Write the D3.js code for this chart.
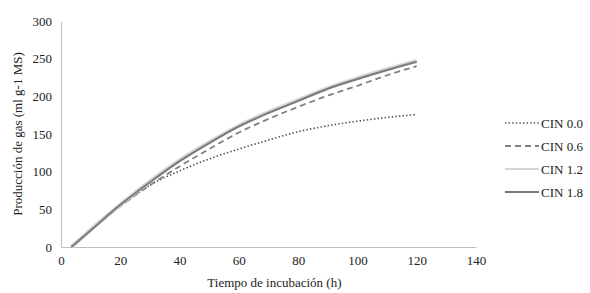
<!DOCTYPE html>
<html>
<head>
<meta charset="utf-8">
<script src="https://cdn.jsdelivr.net/npm/d3@7"></script>
<style>
  body { margin: 0; background: #fff; }
  svg text { font-family: "Liberation Serif", "Times New Roman", "DejaVu Serif", serif; fill: #222; }
</style>
</head>
<body>
<div id="chart"></div>
<script>
// incubation hours
const hours = [3.5, 10, 20, 30, 40, 50, 60, 70, 80, 90, 100, 110, 120];
// gas production (ml g-1 MS)
const cin00 = [0, 22, 54, 82, 101, 117, 130, 142, 153, 161, 167, 172, 176];
const cin06 = [0, 22, 54, 82, 107, 130, 152, 170, 186, 201, 214, 228, 240];
const cin12 = [0, 23, 56, 87, 115, 139, 161, 179, 195, 211, 224, 236, 247];
const cin18 = [0, 22, 56, 86, 114, 138, 160, 178, 194, 210, 223, 235, 246];
const xTicks = [0, 20, 40, 60, 80, 100, 120, 140];
const yTicks = [0, 50, 100, 150, 200, 250, 300];

const series = [
  { name: "CIN 0.0", values: cin00, stroke: "#4d4d4d", width: 1.6, dash: "1.4,2.2" },
  { name: "CIN 0.6", values: cin06, stroke: "#808080", width: 1.8, dash: "6,4" },
  { name: "CIN 1.2", values: cin12, stroke: "#d6d6d6", width: 4, dash: null },
  { name: "CIN 1.8", values: cin18, stroke: "#7a7a7a", width: 2, dash: null }
];

const width = 590, height = 293;
const margin = { top: 21, right: 114, bottom: 46, left: 61 };
const innerWidth = width - margin.left - margin.right;
const innerHeight = height - margin.top - margin.bottom;
const fontFamily = '"Liberation Serif", "Times New Roman", "DejaVu Serif", serif';

const svg = d3.select("#chart").append("svg")
  .attr("width", width)
  .attr("height", height)
  .attr("font-family", fontFamily);

const g = svg.append("g").attr("transform", `translate(${margin.left},${margin.top})`);

const x = d3.scaleLinear().domain([0, 140]).range([0, innerWidth]);
const y = d3.scaleLinear().domain([0, 300]).range([innerHeight, 0]);

// axes - plain grey lines, no tick marks
const xAxis = g.append("g")
  .attr("transform", `translate(0,${innerHeight})`)
  .call(d3.axisBottom(x).tickValues(xTicks).tickSize(0).tickPadding(9));
const yAxis = g.append("g")
  .call(d3.axisLeft(y).tickValues(yTicks).tickSize(0).tickPadding(9));

[xAxis, yAxis].forEach(a => {
  a.attr("font-family", fontFamily).attr("font-size", 13);
  a.select(".domain").attr("stroke", "#bfbfbf").attr("stroke-width", 1);
  a.selectAll("text").attr("fill", "#222");
});

const line = d3.line()
  .x((d, i) => x(hours[i]))
  .y(d => y(d))
  .curve(d3.curveMonotoneX);

series.forEach(s => {
  g.append("path")
    .datum(s.values)
    .attr("fill", "none")
    .attr("stroke", s.stroke)
    .attr("stroke-width", s.width)
    .attr("stroke-dasharray", s.dash)
    .attr("d", line);
});

// axis titles
svg.append("text")
  .attr("x", margin.left + x(72))
  .attr("y", 287)
  .attr("text-anchor", "middle")
  .attr("font-size", 13)
  .text("Tiempo de incubación (h)");

svg.append("text")
  .attr("transform", `translate(22,${margin.top + innerHeight / 2}) rotate(-90)`)
  .attr("text-anchor", "middle")
  .attr("font-size", 13)
  .text("Producción de gas (ml g-1 MS)");

// legend
const legend = svg.append("g").attr("transform", "translate(505,123)");
series.forEach((s, i) => {
  const row = legend.append("g").attr("transform", `translate(0,${i * 23})`);
  row.append("line")
    .attr("x1", 0).attr("x2", 34)
    .attr("stroke", s.stroke)
    .attr("stroke-width", s.name === "CIN 1.2" ? 2 : s.width)
    .attr("stroke-dasharray", s.dash);
  row.append("text")
    .attr("x", 36)
    .attr("dy", "0.35em")
    .attr("font-size", 13)
    .text(s.name);
});
</script>
</body>
</html>
